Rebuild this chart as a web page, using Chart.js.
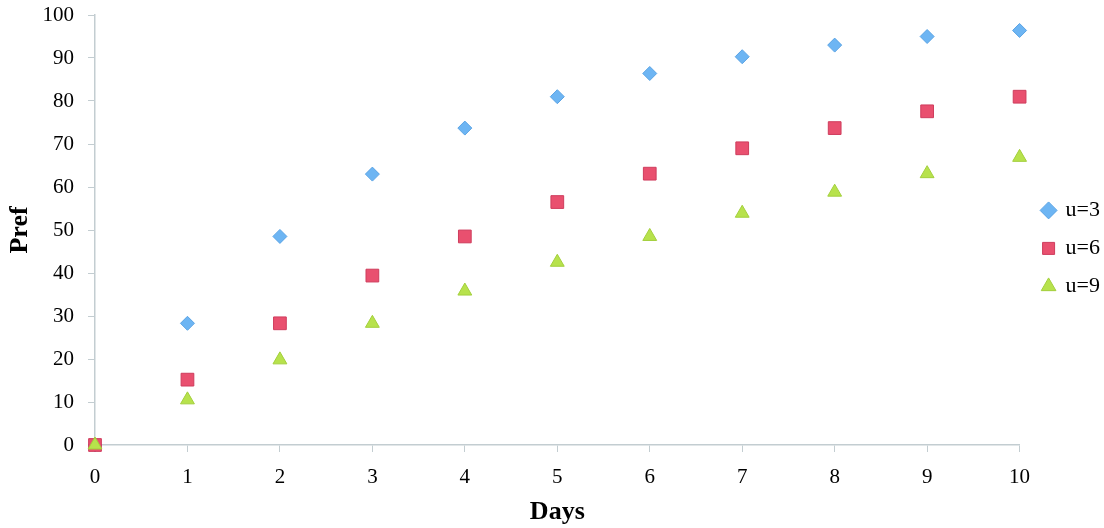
<!DOCTYPE html>
<html lang="en">
  <head>
    <meta charset="utf-8" />
    <title>Pref vs Days</title>
    <style>
      html, body { margin: 0; padding: 0; background: #fff; }
      #wrap { width: 1104px; height: 528px; }
    </style>
  </head>
  <body>
    <div id="wrap">
      <canvas id="canvas"></canvas>
    </div>

    <script src="https://cdn.jsdelivr.net/npm/chart.js"></script>

    <script>
      const days = [0, 1, 2, 3, 4, 5, 6, 7, 8, 9, 10];
      const u3 = [0, 28.3, 48.5, 63, 73.7, 81, 86.4, 90.3, 93, 95, 96.4];
      const u6 = [0, 15.2, 28.3, 39.4, 48.5, 56.5, 63.1, 69, 73.7, 77.6, 81];
      const u9 = [0, 10.5, 19.8, 28.3, 35.8, 42.5, 48.5, 53.9, 58.8, 63.1, 66.9];

      const serif = "'Liberation Serif', 'DejaVu Serif', serif";
      const axisColor = "#c3cdd1";

      function pts(vals) {
        return days.map(function (d, i) { return { x: d, y: vals[i] }; });
      }

      new Chart(document.getElementById("canvas"), {
        type: "scatter",
        data: {
          datasets: [
            {
              label: "u=3",
              data: pts(u3),
              order: 2,
              pointStyle: "rectRot",
              pointRadius: 7,
              backgroundColor: "#6db5f3",
              borderColor: "#5aa3e4",
              borderWidth: 1,
              clip: false,
            },
            {
              label: "u=6",
              data: pts(u6),
              order: 1,
              pointStyle: "rect",
              pointRadius: 9,
              backgroundColor: "#e9506f",
              borderColor: "#cf3d5d",
              borderWidth: 1,
              clip: false,
            },
            {
              label: "u=9",
              data: pts(u9),
              order: 0,
              pointStyle: "triangle",
              pointRadius: 8,
              backgroundColor: "#b7e24c",
              borderColor: "#a3cf3c",
              borderWidth: 1,
              clip: false,
            },
          ],
        },
        options: {
          responsive: true,
          maintainAspectRatio: false,
          animation: false,
          layout: { padding: { top: 15, left: 0, right: -6, bottom: 0 } },
          plugins: {
            tooltip: { enabled: false },
            legend: {
              position: "right",
              align: "start",
              title: { display: true, text: "", padding: { top: 154, bottom: 0 } },
              labels: {
                usePointStyle: true,
                boxWidth: 12,
                boxHeight: 12,
                padding: 16,
                color: "#000",
                font: { family: serif, size: 22 },
                sort: function (a, b) { return a.datasetIndex - b.datasetIndex; },
              },
            },
          },
          scales: {
            x: {
              type: "linear",
              min: 0,
              max: 10,
              afterFit: function (s) { s.height = 83; },
              ticks: {
                stepSize: 1,
                color: "#000",
                padding: 13,
                font: { family: serif, size: 21 },
              },
              grid: {
                drawOnChartArea: false,
                tickLength: 7,
                color: axisColor,
              },
              border: { color: axisColor, width: 1.5 },
              title: {
                display: true,
                text: "Days",
                color: "#000",
                font: { family: serif, size: 26, weight: "bold" },
                padding: { top: 0, bottom: 0 },
              },
            },
            y: {
              min: 0,
              max: 100,
              afterFit: function (s) {
                s.width = 95;
                s.paddingTop = 0;
                s.paddingBottom = 0;
              },
              ticks: {
                stepSize: 10,
                color: "#000",
                padding: 14,
                font: { family: serif, size: 21 },
              },
              grid: {
                drawOnChartArea: false,
                tickLength: 7,
                color: axisColor,
              },
              border: { color: axisColor, width: 1.5 },
              title: {
                display: true,
                text: "Pref",
                color: "#000",
                font: { family: serif, size: 26, weight: "bold" },
                padding: { top: 5, bottom: 0 },
              },
            },
            // empty spacer between plot and legend
            gap: {
              type: "linear",
              position: "right",
              afterFit: function (s) { s.width = 7; },
              ticks: { display: false },
              grid: { display: false },
              border: { display: false },
            },
          },
        },
      });
    </script>
  </body>
</html>
